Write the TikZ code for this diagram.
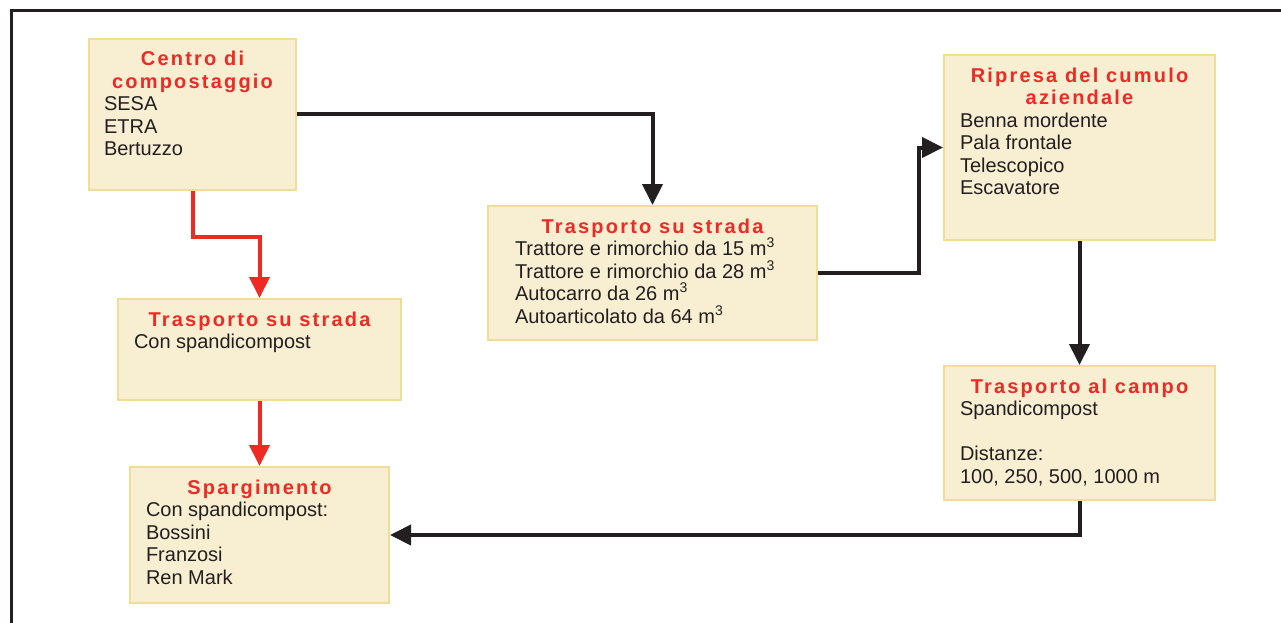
\documentclass[tikz,border=0pt]{standalone}
\usepackage{fontspec}
\setmainfont{Liberation Sans}
\newfontfamily\titlefont{Liberation Sans}[LetterSpace=11]
\usetikzlibrary{arrows.meta}
\tikzset{>={Triangle[length=21pt,width=20pt]}}

\definecolor{boxfill}{HTML}{F8EFD2}
\definecolor{boxline}{HTML}{F1DC98}
\definecolor{titred}{HTML}{EE2A24}
\definecolor{ink}{HTML}{231F20}

\tikzset{
  box/.style={draw=boxline,fill=boxfill,line width=2pt,inner sep=0pt,
    text=ink,font=\fontsize{20pt}{22.5pt}\selectfont},
  flow/.style={->,line width=4pt,draw=ink},
  redflow/.style={->,line width=4pt,draw=titred}
}
% width, height, left inset, title, body
\newcommand{\boxtxt}[5]{\parbox[c][#2pt][t]{#1pt}{%
  {\centering\titlefont\bfseries\color{titred}\rule{0pt}{27pt}#4\par}%
  {\raggedright\leftskip=#3pt #5\par}}}
\newcommand{\cube}{m\textsuperscript{3}}

\begin{document}
\begin{tikzpicture}[x=1pt,y=-1pt]
  \useasboundingbox (0,0) rectangle (1281,623);
  \draw[ink,line width=3pt] (11,640) -- (11,10.5) -- (1300,10.5);

  \node[box] (centro) at (192.5,114.5)
    {\boxtxt{207}{151}{15}{Centro di\\compostaggio}{SESA\\ETRA\\Bertuzzo}};
  \node[box] (left) at (259.5,349.5)
    {\boxtxt{283}{101}{16}{Trasporto su strada}{Con spandicompost}};
  \node[box] (sparg) at (259.5,535)
    {\boxtxt{259}{136}{16}{Spargimento}{Con spandicompost:\\Bossini\\Franzosi\\Ren Mark}};
  \node[box] (mid) at (652.5,273)
    {\boxtxt{329}{134}{27}{Trasporto su strada}{Trattore e rimorchio da 15 \cube\\
      Trattore e rimorchio da 28 \cube\\Autocarro da 26 \cube\\
      Autoarticolato da 64 \cube}};
  \node[box] (rip) at (1079.5,147.5)
    {\boxtxt{271}{185}{16}{Ripresa del cumulo\\aziendale}{Benna mordente\\Pala frontale\\Telescopico\\Escavatore}};
  \node[box] (campo) at (1079.5,433)
    {\boxtxt{271}{134}{16}{Trasporto al campo}{Spandicompost\\[22.5pt]Distanze:\\100, 250, 500, 1000 m}};

  \draw[flow] (centro.east) -| (mid.north);
  \draw[redflow] (centro.south) -- ++(0,46) -| (left.north);
  \draw[redflow] (left.south) -- (sparg.north);
  \draw[flow] (mid.east) -- ++(101,0) |- (rip.west);
  \draw[flow] (rip.south) -- (campo.north);
  \draw[flow] (campo.south) |- (sparg.east);
\end{tikzpicture}
\end{document}
